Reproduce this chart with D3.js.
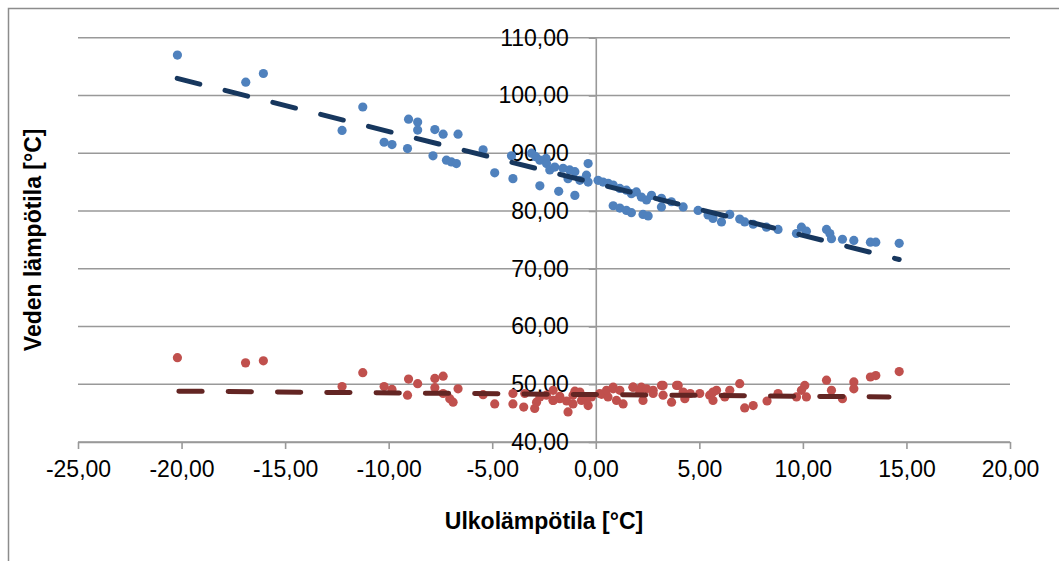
<!DOCTYPE html>
<html>
<head>
<meta charset="utf-8">
<script src="https://cdn.jsdelivr.net/npm/d3@7"></script>
<style>
  html, body { margin: 0; padding: 0; background: #fff; }
  svg text { font-family: "Liberation Sans", Arial, sans-serif; fill: #000; }
</style>
</head>
<body>
<svg id="chart" width="1059" height="561"></svg>
<script>
// menoveden lämpötila (blue) vs ulkolämpötila
const supplyPoints = [
  [-20.2, 107.0], [-16.9, 102.3], [-16.05, 103.8], [-11.25, 98.0], [-12.25, 93.95],
  [-10.22, 91.9], [-9.84, 91.5], [-9.09, 90.8], [-9.04, 95.9], [-8.6, 95.4],
  [-8.6, 94.0], [-7.77, 94.1], [-7.37, 93.3], [-6.65, 93.3], [-7.86, 89.55],
  [-7.21, 88.8], [-6.97, 88.5], [-6.73, 88.2], [-5.44, 90.6], [-4.88, 86.6],
  [-4.0, 85.6], [-4.07, 89.55], [-3.1, 90.0], [-2.9, 89.4], [-2.4, 89.1],
  [-2.7, 88.8], [-2.38, 88.2], [-2.22, 87.1], [-1.98, 87.6], [-1.58, 87.4],
  [-1.26, 87.1], [-1.01, 86.8], [-1.34, 85.6], [-0.77, 85.3], [-2.7, 84.35],
  [-1.79, 83.4], [-1.01, 82.7], [-0.37, 88.2], [-0.45, 86.2], [-0.37, 85.0],
  [0.11, 85.3], [0.35, 85.0], [0.6, 84.8], [0.84, 84.5], [1.16, 83.9],
  [1.48, 83.6], [1.72, 83.0], [1.96, 83.3], [2.2, 82.4], [2.45, 81.9],
  [2.69, 82.7], [3.17, 82.2], [3.17, 80.7], [3.65, 81.6], [4.22, 80.7],
  [4.94, 80.1], [0.84, 80.9], [1.16, 80.5], [1.48, 80.1], [1.72, 79.7],
  [2.28, 79.4], [2.53, 79.15], [5.42, 79.3], [5.66, 78.7], [6.07, 78.1],
  [6.47, 79.4], [6.95, 78.6], [7.19, 78.1], [7.6, 77.7], [8.24, 77.2],
  [8.8, 76.8], [9.69, 76.1], [9.93, 77.2], [10.17, 76.5], [11.14, 76.8],
  [11.3, 76.1], [11.38, 75.2], [11.91, 75.1], [12.46, 74.9], [13.26, 74.6],
  [13.52, 74.6], [14.65, 74.4]
];

// paluuveden lämpötila (red)
const returnPoints = [
  [-20.2, 54.6], [-16.91, 53.7], [-16.05, 54.05], [-11.25, 52.0], [-12.25, 49.6],
  [-10.22, 49.6], [-9.84, 49.1], [-9.09, 48.1], [-9.04, 50.9], [-8.6, 50.1],
  [-7.77, 51.0], [-7.37, 51.4], [-7.77, 49.4], [-7.37, 48.4], [-7.05, 47.5],
  [-6.89, 46.9], [-6.65, 49.2], [-5.44, 48.2], [-4.88, 46.6], [-4.0, 48.4],
  [-4.0, 46.6], [-3.48, 46.05], [-2.95, 45.8], [-3.43, 48.4], [-2.7, 47.8],
  [-2.38, 48.1], [-2.06, 47.2], [-1.74, 47.9], [-1.41, 47.1], [-1.01, 48.8],
  [-1.1, 46.6], [-0.69, 47.2], [-0.37, 46.3], [-0.21, 47.8], [0.28, 48.25],
  [0.59, 47.8], [0.84, 49.2], [1.0, 47.2], [-2.86, 46.9], [-2.06, 48.95],
  [-1.34, 45.2], [1.32, 46.6], [1.8, 49.5], [2.2, 49.5], [2.28, 47.2],
  [2.77, 48.95], [3.17, 49.8], [3.25, 48.1], [3.66, 46.9], [3.98, 49.8],
  [4.3, 47.5], [5.02, 48.4], [5.5, 48.1], [5.66, 47.2], [5.83, 48.95],
  [6.23, 47.8], [6.95, 50.1], [7.19, 45.9], [7.6, 46.3], [5.66, 48.65],
  [6.47, 48.95], [8.27, 47.1], [8.8, 48.4], [9.69, 47.8], [9.93, 48.95],
  [10.09, 49.8], [10.17, 47.8], [11.14, 50.7], [11.38, 48.95], [11.91, 47.5],
  [12.46, 50.4], [12.46, 49.2], [13.26, 51.25], [13.52, 51.5], [14.65, 52.2],
  [-2.06, 47.2], [-1.74, 47.5], [-1.1, 48.1], [-0.77, 48.65], [-0.45, 47.2],
  [0.19, 48.4], [0.52, 48.95], [0.84, 49.5], [1.16, 48.95], [1.8, 49.5],
  [2.12, 48.65], [2.45, 49.2], [2.77, 48.4], [3.25, 49.8], [3.9, 49.8],
  [4.22, 48.65], [4.56, 48.4]
];

// lineaariset trendiviivat (alku- ja loppupiste)
const supplyTrend = [[-20.21, 102.95], [14.65, 71.6]];
const returnTrend = [[-20.13, 48.8], [14.16, 47.8]];

const xTicks = [-25, -20, -15, -10, -5, 0, 5, 10, 15, 20];
const yTicks = [40, 50, 60, 70, 80, 90, 100, 110];

const xTitle = 'Ulkolämpötila [°C]';
const yTitle = 'Veden lämpötila [°C]';

const fiLocale = d3.formatLocale({
  decimal: ',', thousands: ' ', grouping: [3], currency: ['', '€'], minus: '-'
});
const fmt = fiLocale.format('.2f');

const svg = d3.select('#chart');

const x = d3.scaleLinear().domain([-25, 20]).range([78, 1010]);
const y = d3.scaleLinear().domain([40, 110]).range([442, 37.7]);

// reunus
svg.append('rect')
  .attr('x', 8.5).attr('y', 8.5)
  .attr('width', 1100).attr('height', 600)
  .attr('fill', 'none')
  .attr('stroke', '#8c8c8c')
  .attr('stroke-width', 1.5);

// vaakaviivat
svg.append('g')
  .selectAll('line')
  .data(yTicks)
  .join('line')
  .attr('x1', x(-25)).attr('x2', x(20))
  .attr('y1', d => y(d)).attr('y2', d => y(d))
  .attr('stroke', '#999')
  .attr('stroke-width', 1.6);

// x-akseli
const xAxis = svg.append('g')
  .attr('transform', `translate(0,${y(40)})`)
  .call(d3.axisBottom(x).tickValues(xTicks).tickFormat(fmt)
    .tickSize(7).tickSizeOuter(0).tickPadding(12));

// y-akseli nollan kohdalla
const yAxis = svg.append('g')
  .attr('transform', `translate(${x(0)},0)`)
  .call(d3.axisLeft(y).tickValues(yTicks).tickFormat(fmt)
    .tickSize(7).tickSizeOuter(0).tickPadding(20));

[xAxis, yAxis].forEach(g => {
  g.select('.domain').attr('stroke', '#999').attr('stroke-width', 1.6);
  g.selectAll('.tick line').attr('stroke', '#999').attr('stroke-width', 1.6);
  g.selectAll('.tick text')
    .attr('font-size', 23)
    .attr('font-family', '"Liberation Sans", Arial, sans-serif')
    .attr('fill', '#000');
});

// pisteet
svg.append('g')
  .selectAll('circle')
  .data(supplyPoints)
  .join('circle')
  .attr('cx', d => x(d[0]))
  .attr('cy', d => y(d[1]))
  .attr('r', 4.6)
  .attr('fill', '#4f81bd');

svg.append('g')
  .selectAll('circle')
  .data(returnPoints)
  .join('circle')
  .attr('cx', d => x(d[0]))
  .attr('cy', d => y(d[1]))
  .attr('r', 4.6)
  .attr('fill', '#c0504d');

// trendit
const line = d3.line().x(d => x(d[0])).y(d => y(d[1]));

svg.append('path')
  .attr('d', line(supplyTrend))
  .attr('fill', 'none')
  .attr('stroke', '#17375e')
  .attr('stroke-width', 5)
  .attr('stroke-linecap', 'round')
  .attr('stroke-dasharray', '23.3 26');

svg.append('path')
  .attr('d', line(returnTrend))
  .attr('fill', 'none')
  .attr('stroke', '#632523')
  .attr('stroke-width', 5)
  .attr('stroke-linecap', 'round')
  .attr('stroke-dasharray', '23.3 26');

// otsikot
svg.append('text')
  .attr('x', (x(-25) + x(20)) / 2)
  .attr('y', 521)
  .attr('text-anchor', 'middle')
  .attr('dy', '0.35em')
  .attr('font-size', 23)
  .attr('font-weight', 'bold')
  .text(xTitle);

svg.append('text')
  .attr('transform', `translate(33,${(y(40) + y(110)) / 2}) rotate(-90)`)
  .attr('text-anchor', 'middle')
  .attr('dy', '0.35em')
  .attr('font-size', 23)
  .attr('font-weight', 'bold')
  .text(yTitle);
</script>
</body>
</html>
